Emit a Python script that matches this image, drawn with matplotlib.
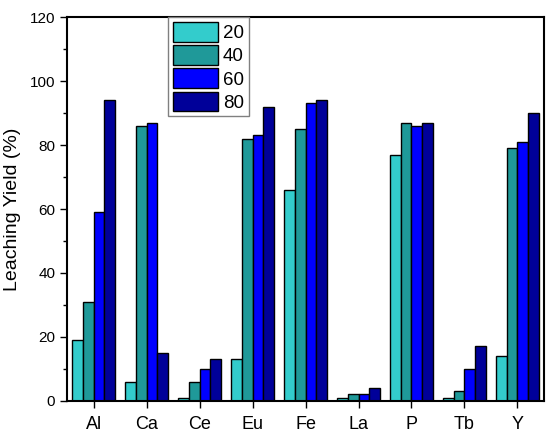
import matplotlib
matplotlib.use("Agg")
import matplotlib.pyplot as plt
import numpy as np
from matplotlib.ticker import MultipleLocator

plt.rcParams['font.family'] = ['Liberation Sans', 'DejaVu Sans']

categories = ["Al", "Ca", "Ce", "Eu", "Fe", "La", "P", "Tb", "Y"]
series_labels = ["20", "40", "60", "80"]
v20 = [19, 6, 1, 13, 66, 1, 77, 1, 14]
v40 = [31, 86, 6, 82, 85, 2, 87, 3, 79]
v60 = [59, 87, 10, 83, 93, 2, 86, 10, 81]
v80 = [94, 15, 13, 92, 94, 4, 87, 17, 90]
colors = ["#33CCCC", "#1F9999", "#0000FF", "#000099"]

fig = plt.figure(figsize=(5.5, 4.4), dpi=100)
ax = fig.add_axes([0.122, 0.089, 0.867, 0.872])

x = np.arange(len(categories))
w = 0.2
for i, (vals, lab, c) in enumerate(zip([v20, v40, v60, v80], series_labels, colors)):
    ax.bar(x + (i - 1.5) * w, vals, w, color=c, edgecolor="black", linewidth=1.0, label=lab)

ax.set_xlim(-0.5, len(categories) - 0.5)
ax.set_ylim(0, 120)
ax.set_xticks(x)
ax.set_xticklabels(categories, fontsize=13)
ax.yaxis.set_major_locator(MultipleLocator(20))
ax.yaxis.set_minor_locator(MultipleLocator(10))
ax.tick_params(axis='y', labelsize=11, direction='out', length=5, width=1)
ax.tick_params(axis='y', which='minor', length=3, width=1)
ax.tick_params(axis='x', direction='out', length=5, width=1, pad=6)
ax.set_ylabel("Leaching Yield (%)", fontsize=14, labelpad=6)
for s in ax.spines.values():
    s.set_linewidth(1.5)

leg = ax.legend(loc="upper left", bbox_to_anchor=(0.212, 1.0), fontsize=13.5,
                handlelength=2.4, handleheight=1.25, labelspacing=0.16,
                handletextpad=0.27, borderpad=0.25, borderaxespad=0.0,
                fancybox=False, framealpha=1, edgecolor="#808080")
leg.get_frame().set_linewidth(1.0)

fig.savefig("out.png", dpi=100)
